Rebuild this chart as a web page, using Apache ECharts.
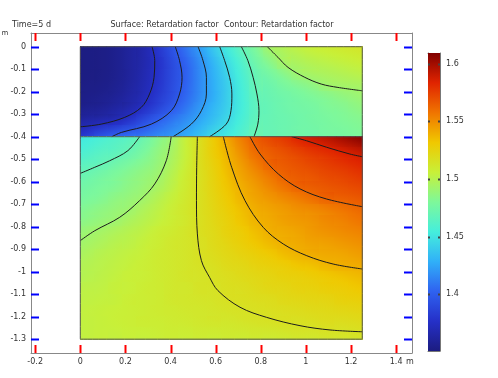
<!DOCTYPE html>
<html>
<head>
<meta charset="utf-8">
<title>Retardation factor</title>
<script src="https://cdn.jsdelivr.net/npm/echarts@6/dist/echarts.min.js"></script>
<style>
  html, body { margin: 0; padding: 0; background: #fff; }
  #chart { width: 498px; height: 378px; }
</style>
</head>
<body>
<div id="chart"></div>
<script>
const xCells = [0.03125, 0.09375, 0.15625, 0.21875, 0.28125, 0.34375, 0.40625, 0.46875, 0.53125, 0.59375,
  0.65625, 0.71875, 0.78125, 0.84375, 0.90625, 0.96875, 1.03125, 1.09375, 1.15625, 1.21875]
const topRowsY = [-0.025, -0.075, -0.125, -0.175, -0.225, -0.275, -0.325, -0.375]
const bottomRowsY = [-0.425, -0.475, -0.525, -0.575, -0.625, -0.675, -0.725, -0.775, -0.825,
  -0.875, -0.925, -0.975, -1.025, -1.075, -1.125, -1.175, -1.225, -1.275]
const topLayer = [
  [1.352, 1.353, 1.356, 1.361, 1.367, 1.379, 1.393, 1.407, 1.421, 1.437, 1.452, 1.466, 1.479, 1.491, 1.497, 1.501, 1.504, 1.506, 1.508, 1.510],
  [1.352, 1.353, 1.356, 1.361, 1.367, 1.377, 1.390, 1.403, 1.417, 1.432, 1.447, 1.461, 1.474, 1.484, 1.493, 1.496, 1.499, 1.501, 1.503, 1.505],
  [1.352, 1.353, 1.356, 1.361, 1.368, 1.378, 1.390, 1.402, 1.416, 1.430, 1.444, 1.458, 1.470, 1.477, 1.484, 1.491, 1.494, 1.496, 1.498, 1.500],
  [1.353, 1.354, 1.357, 1.362, 1.369, 1.379, 1.391, 1.403, 1.416, 1.429, 1.442, 1.456, 1.469, 1.473, 1.478, 1.482, 1.486, 1.491, 1.493, 1.494],
  [1.354, 1.356, 1.359, 1.364, 1.371, 1.382, 1.393, 1.405, 1.417, 1.429, 1.442, 1.455, 1.467, 1.471, 1.474, 1.477, 1.480, 1.483, 1.486, 1.489],
  [1.357, 1.359, 1.363, 1.368, 1.377, 1.388, 1.399, 1.410, 1.421, 1.432, 1.443, 1.455, 1.466, 1.470, 1.473, 1.475, 1.477, 1.480, 1.482, 1.485],
  [1.364, 1.367, 1.371, 1.379, 1.390, 1.400, 1.409, 1.417, 1.426, 1.436, 1.446, 1.457, 1.467, 1.470, 1.472, 1.474, 1.476, 1.478, 1.480, 1.482],
  [1.378, 1.386, 1.392, 1.398, 1.404, 1.411, 1.417, 1.424, 1.433, 1.443, 1.451, 1.460, 1.469, 1.470, 1.472, 1.474, 1.475, 1.477, 1.478, 1.480]
]
const bottomLayer = [
  [1.455, 1.459, 1.463, 1.467, 1.474, 1.484, 1.493, 1.506, 1.518, 1.530, 1.542, 1.554, 1.564, 1.570, 1.575, 1.581, 1.586, 1.590, 1.595, 1.600],
  [1.460, 1.464, 1.467, 1.472, 1.479, 1.487, 1.495, 1.506, 1.518, 1.529, 1.539, 1.550, 1.560, 1.565, 1.569, 1.573, 1.577, 1.580, 1.584, 1.588],
  [1.466, 1.469, 1.474, 1.479, 1.484, 1.489, 1.497, 1.507, 1.518, 1.527, 1.537, 1.546, 1.555, 1.563, 1.566, 1.569, 1.572, 1.575, 1.578, 1.581],
  [1.472, 1.476, 1.480, 1.484, 1.488, 1.492, 1.500, 1.509, 1.517, 1.526, 1.535, 1.543, 1.550, 1.557, 1.563, 1.566, 1.568, 1.571, 1.573, 1.576],
  [1.476, 1.479, 1.482, 1.486, 1.490, 1.495, 1.502, 1.510, 1.517, 1.525, 1.533, 1.540, 1.546, 1.552, 1.558, 1.563, 1.565, 1.567, 1.569, 1.571],
  [1.479, 1.482, 1.486, 1.489, 1.493, 1.499, 1.505, 1.511, 1.517, 1.524, 1.531, 1.538, 1.543, 1.547, 1.551, 1.555, 1.559, 1.563, 1.564, 1.566],
  [1.483, 1.486, 1.489, 1.492, 1.497, 1.502, 1.507, 1.512, 1.517, 1.523, 1.529, 1.535, 1.540, 1.543, 1.546, 1.549, 1.551, 1.554, 1.557, 1.560],
  [1.486, 1.489, 1.492, 1.496, 1.500, 1.504, 1.508, 1.512, 1.517, 1.522, 1.527, 1.533, 1.538, 1.541, 1.544, 1.546, 1.548, 1.551, 1.553, 1.556],
  [1.491, 1.494, 1.497, 1.500, 1.503, 1.507, 1.510, 1.513, 1.517, 1.521, 1.526, 1.530, 1.535, 1.539, 1.541, 1.543, 1.546, 1.548, 1.550, 1.552],
  [1.494, 1.497, 1.500, 1.502, 1.505, 1.508, 1.511, 1.513, 1.516, 1.520, 1.524, 1.528, 1.532, 1.536, 1.539, 1.541, 1.543, 1.544, 1.546, 1.548],
  [1.497, 1.500, 1.502, 1.504, 1.506, 1.509, 1.511, 1.513, 1.516, 1.519, 1.522, 1.525, 1.528, 1.531, 1.535, 1.538, 1.540, 1.541, 1.542, 1.544],
  [1.499, 1.501, 1.503, 1.505, 1.507, 1.509, 1.511, 1.513, 1.515, 1.517, 1.520, 1.522, 1.525, 1.527, 1.529, 1.532, 1.534, 1.537, 1.539, 1.540],
  [1.500, 1.502, 1.504, 1.506, 1.507, 1.509, 1.511, 1.513, 1.514, 1.516, 1.518, 1.520, 1.522, 1.524, 1.526, 1.527, 1.529, 1.531, 1.533, 1.535],
  [1.502, 1.503, 1.505, 1.506, 1.508, 1.509, 1.511, 1.512, 1.514, 1.515, 1.517, 1.518, 1.520, 1.522, 1.523, 1.525, 1.526, 1.528, 1.529, 1.531],
  [1.503, 1.504, 1.505, 1.507, 1.508, 1.509, 1.511, 1.512, 1.513, 1.514, 1.516, 1.517, 1.518, 1.519, 1.521, 1.522, 1.523, 1.524, 1.526, 1.527],
  [1.504, 1.505, 1.506, 1.507, 1.508, 1.509, 1.510, 1.511, 1.512, 1.513, 1.514, 1.515, 1.516, 1.517, 1.518, 1.519, 1.520, 1.521, 1.522, 1.523],
  [1.504, 1.505, 1.506, 1.507, 1.508, 1.508, 1.509, 1.510, 1.511, 1.512, 1.512, 1.513, 1.514, 1.515, 1.516, 1.516, 1.517, 1.518, 1.518, 1.519],
  [1.504, 1.505, 1.505, 1.506, 1.506, 1.507, 1.508, 1.508, 1.509, 1.509, 1.510, 1.510, 1.511, 1.511, 1.512, 1.513, 1.513, 1.514, 1.514, 1.515]
]
const contoursTop = [
  [[0.318, 0], [0.33, -0.062], [0.327, -0.136], [0.307, -0.21], [0.27, -0.27], [0.197, -0.314], [0.093, -0.344], [0, -0.356]],
  [[0.421, 0], [0.44, -0.062], [0.451, -0.136], [0.44, -0.21], [0.404, -0.284], [0.315, -0.344], [0.182, -0.381], [0.14, -0.4]],
  [[0.522, 0], [0.544, -0.062], [0.559, -0.136], [0.559, -0.21], [0.537, -0.284], [0.492, -0.344], [0.411, -0.4]],
  [[0.618, 0], [0.64, -0.062], [0.662, -0.136], [0.672, -0.21], [0.668, -0.284], [0.647, -0.344], [0.573, -0.4]],
  [[0.714, 0], [0.743, -0.062], [0.766, -0.136], [0.783, -0.21], [0.792, -0.284], [0.787, -0.344], [0.77, -0.4]],
  [[0.829, 0], [0.876, -0.047], [0.921, -0.092], [0.995, -0.136], [1.068, -0.166], [1.142, -0.181], [1.25, -0.196]]
]
const contoursBottom = [
  [[0.263, -0.4], [0.211, -0.462], [0.13, -0.507], [0.064, -0.536], [0, -0.563]],
  [[0.403, -0.4], [0.381, -0.507], [0.33, -0.61], [0.263, -0.684], [0.175, -0.758], [0.064, -0.818], [0, -0.862]],
  [[0.519, -0.4], [0.516, -0.536], [0.515, -0.684], [0.519, -0.832], [0.537, -0.951], [0.573, -1.025], [0.61, -1.084],
    [0.708, -1.158], [0.826, -1.203], [0.974, -1.24], [1.107, -1.259], [1.25, -1.267]],
  [[0.634, -0.4], [0.671, -0.536], [0.73, -0.684], [0.811, -0.803], [0.9, -0.877], [1.004, -0.929], [1.121, -0.966], [1.25, -0.988]],
  [[0.752, -0.4], [0.797, -0.477], [0.878, -0.566], [0.974, -0.632], [1.092, -0.677], [1.25, -0.711]],
  [[0.937, -0.4], [1.003, -0.418], [1.092, -0.447], [1.195, -0.477], [1.25, -0.489]]
]
const domainOutline = [[0, 0], [1.25, 0], [1.25, -1.3], [0, -1.3], [0, 0]]
const layerInterface = [[0, -0.4], [1.25, -0.4]]
const xTicks = [-0.2, 0, 0.2, 0.4, 0.6, 0.8, 1, 1.2, 1.4]
const yTicks = [0, -0.1, -0.2, -0.3, -0.4, -0.5, -0.6, -0.7, -0.8, -0.9, -1, -1.1, -1.2, -1.3]
const colorTicks = [1.4, 1.45, 1.5, 1.55, 1.6]
const colorRange = [1.3509, 1.6092]

const CELL_W = 0.0625
const CELL_H = 0.05
const FONT = 'DejaVu Sans'
const rainbow = ['#1c1c80', '#2530c8', '#2f62f0', '#30b0f8', '#45eedc', '#7ef89a',
  '#c8f038', '#f0c800', '#f07400', '#e02400', '#800000']
const rainbowRgb = rainbow.map((h) => [1, 3, 5].map((i) => parseInt(h.slice(i, i + 2), 16)))
function colorAt(v) {
  let f = (v - colorRange[0]) / (colorRange[1] - colorRange[0])
  f = Math.min(1, Math.max(0, f)) * (rainbowRgb.length - 1)
  const i = Math.min(rainbowRgb.length - 2, Math.floor(f))
  const t = f - i
  const c = rainbowRgb[i].map((a, k) => Math.round(a + (rainbowRgb[i + 1][k] - a) * t))
  return `rgb(${c[0]},${c[1]},${c[2]})`
}
const surfaceData = []
function addLayer(layer, rowsY) {
  layer.forEach((row, r) => {
    row.forEach((v, c) => {
      const l = c > 0 ? row[c - 1] : v
      const rt = c < row.length - 1 ? row[c + 1] : v
      const up = r > 0 ? layer[r - 1][c] : v
      const dn = r < layer.length - 1 ? layer[r + 1][c] : v
      const gx = (rt - l) / ((c > 0 && c < row.length - 1 ? 2 : 1) * CELL_W)
      const gy = (up - dn) / ((r > 0 && r < layer.length - 1 ? 2 : 1) * CELL_H)
      surfaceData.push([xCells[c], rowsY[r], v, gx, gy])
    })
  })
}
addLayer(topLayer, topRowsY)
addLayer(bottomLayer, bottomRowsY)

function renderCell(params, api) {
  const x = api.value(0)
  const y = api.value(1)
  const v = api.value(2)
  const p0 = api.coord([x - CELL_W / 2, y + CELL_H / 2])
  const p1 = api.coord([x + CELL_W / 2, y - CELL_H / 2])
  const w = p1[0] - p0[0]
  const h = p1[1] - p0[1]
  const left = Math.floor(p0[0])
  const top = Math.floor(p0[1])
  const shape = { x: left, y: top, width: Math.ceil(p1[0]) - left, height: Math.ceil(p1[1]) - top }
  const gpx = api.value(3) * CELL_W / w
  const gpy = -api.value(4) * CELL_H / h
  const g = Math.hypot(gpx, gpy)
  if (g < 1e-7) return { type: 'rect', shape, style: { fill: colorAt(v) } }
  const ux = gpx / g
  const uy = gpy / g
  const t = (w / 2) * Math.abs(ux) + (h / 2) * Math.abs(uy) + 1
  const cx = (p0[0] + p1[0]) / 2
  const cy = (p0[1] + p1[1]) / 2
  const stops = []
  for (let k = 0; k <= 4; k++) {
    const f = k / 4
    stops.push({ offset: f, color: colorAt(v + g * t * (2 * f - 1)) })
  }
  return {
    type: 'rect',
    shape,
    style: { fill: new echarts.graphic.LinearGradient(cx - ux * t, cy - uy * t, cx + ux * t, cy + uy * t, stops, true) }
  }
}

function renderColorBar(params, api) {
  const p0 = api.coord([0, api.value(1)])
  const p1 = api.coord([1, api.value(0)])
  const stops = rainbow.map((color, i) => ({ offset: i / (rainbow.length - 1), color }))
  return {
    type: 'rect',
    shape: { x: p0[0], y: p0[1], width: p1[0] - p0[0], height: p1[1] - p0[1] },
    style: { fill: new echarts.graphic.LinearGradient(0, 1, 0, 0, stops) }
  }
}

const lineSeries = (data, color, width, z) => ({
  type: 'line', xAxisIndex: 0, yAxisIndex: 0, data,
  smooth: 0.35, symbol: 'none', silent: true, z,
  lineStyle: { color, width }
})
const labelStyle = (values, margin, digits) => ({
  show: true, customValues: values, fontSize: 8, fontFamily: FONT, color: '#333', margin,
  formatter: (v) => String(Math.round(v * digits) / digits)
})
const frameLine = (color) => ({ show: true, onZero: false, lineStyle: { color, width: 1 } })
const plainAxis = (gridIndex, position, range, color, label) => ({
  gridIndex, type: 'value', position, min: range[0], max: range[1],
  axisLine: frameLine(color), splitLine: { show: false }, axisTick: { show: false },
  axisLabel: label || { show: false }
})

const xRange = [-0.2185, 1.4704]
const yRange = [-1.3614, 0.0609]
const barRange = [0, 1]

const titleGraphics = [
  { type: 'text', x: 12, y: 25, style: { text: 'Time=5 d', font: `8px ${FONT}`, fill: '#333', verticalAlign: 'middle' } },
  { type: 'text', x: 222, y: 25, style: { text: 'Surface: Retardation factor  Contour: Retardation factor',
    font: `8px ${FONT}`, fill: '#333', align: 'center', verticalAlign: 'middle' } },
  { type: 'text', x: 5, y: 33, style: { text: 'm', font: `7px ${FONT}`, fill: '#333', align: 'center', verticalAlign: 'middle' } },
  { type: 'text', x: 410, y: 362, style: { text: 'm', font: `8px ${FONT}`, fill: '#333', align: 'center', verticalAlign: 'middle' } }
]

const chart = echarts.init(document.getElementById('chart'))
chart.setOption({
  animation: false,
  grid: [
    { left: 31, top: 33, width: 381, height: 320, show: false },
    { left: 428, top: 53, width: 12, height: 298, show: false }
  ],
  xAxis: [
    plainAxis(0, 'bottom', xRange, '#888', labelStyle(xTicks, 5, 10)),
    plainAxis(0, 'top', xRange, '#888'),
    plainAxis(1, 'bottom', barRange, '#777'),
    plainAxis(1, 'top', barRange, '#777')
  ],
  yAxis: [
    plainAxis(0, 'left', yRange, '#888', labelStyle(yTicks, 5, 10)),
    plainAxis(0, 'right', yRange, '#888'),
    plainAxis(1, 'right', colorRange, '#777', labelStyle(colorTicks, 6, 100)),
    plainAxis(1, 'left', colorRange, '#777')
  ],
  graphic: titleGraphics,
  series: [
    { type: 'custom', xAxisIndex: 0, yAxisIndex: 0, data: surfaceData, encode: { x: 0, y: 1 },
      renderItem: renderCell, silent: true, z: 1 },
    { type: 'custom', xAxisIndex: 2, yAxisIndex: 2, data: [colorRange], encode: { y: [0, 1] },
      renderItem: renderColorBar, silent: true },
    ...contoursTop.map((d) => lineSeries(d, '#1c1c1c', 1, 3)),
    ...contoursBottom.map((d) => lineSeries(d, '#1c1c1c', 1, 3)),
    lineSeries(domainOutline, '#555', 1, 4),
    lineSeries(layerInterface, '#555', 1, 4)
  ]
})

// tick marks, placed with the axes' own scales (diagnostic colour)
const px = (v) => chart.convertToPixel({ xAxisIndex: 0 }, v)
const py = (v) => chart.convertToPixel({ yAxisIndex: 0 }, v)
const cy = (v) => chart.convertToPixel({ yAxisIndex: 2 }, v)
const frameLeft = px(xRange[0])
const frameRight = px(xRange[1])
const frameBottom = py(yRange[0])
const frameTop = py(yRange[1])
const barLeft = chart.convertToPixel({ xAxisIndex: 2 }, 0)
const barRight = chart.convertToPixel({ xAxisIndex: 2 }, 1)
const tickLine = (x1, y1, x2, y2, color) => ({
  type: 'line', silent: true, z: 100,
  shape: { x1, y1, x2, y2 },
  style: { stroke: color, lineWidth: 2 }
})
const tickGraphics = []
xTicks.forEach((v) => {
  const x = Math.round(px(v)) + 0.5
  tickGraphics.push(tickLine(x, frameBottom, x, frameBottom - 8, '#f00'), tickLine(x, frameTop, x, frameTop + 8, '#f00'))
})
yTicks.forEach((v) => {
  const y = Math.round(py(v)) + 0.5
  tickGraphics.push(tickLine(frameLeft, y, frameLeft + 8, y, '#00f'), tickLine(frameRight, y, frameRight - 8, y, '#00f'))
})
colorTicks.forEach((v) => {
  const y = Math.round(cy(v)) + 0.5
  tickGraphics.push(tickLine(barLeft, y, barLeft + 2, y, '#444'), tickLine(barRight, y, barRight - 2, y, '#444'))
})
chart.setOption({ graphic: [...titleGraphics, ...tickGraphics] })
</script>
</body>
</html>
